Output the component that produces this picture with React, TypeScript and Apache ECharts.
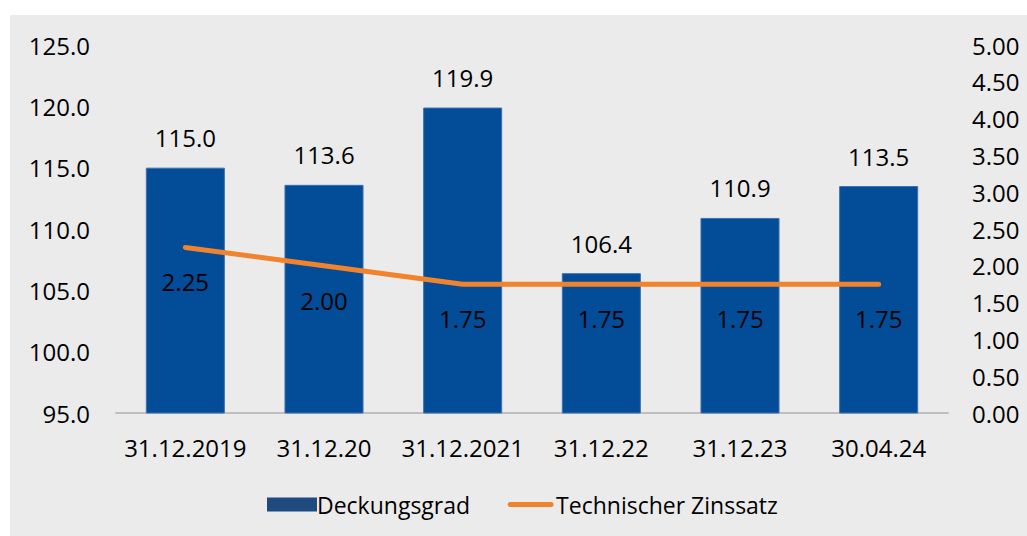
import React, { useEffect, useRef } from "react";
import * as echarts from "echarts";

const categories = ["31.12.2019", "31.12.20", "31.12.2021", "31.12.22", "31.12.23", "30.04.24"];
const deckungsgrad = [115.0, 113.6, 119.9, 106.4, 110.9, 113.5];
const zinssatz = [2.25, 2.0, 1.75, 1.75, 1.75, 1.75];

const FONT = "'Open Sans', sans-serif";
const LINE_ICON =
  "path://M0,0 L0.001,0 L0,0.001 Z M50,14 L49.999,14 L50,13.999 Z M4,4.5 H45 A2.5,2.5 0 0 1 45,9.5 H4 A2.5,2.5 0 0 1 4,4.5 Z";

export default function App() {
  const ref = useRef<HTMLDivElement>(null);
  useEffect(() => {
    if (!ref.current) return;
    const chart = echarts.init(ref.current, null, { renderer: "svg" });
    chart.setOption({
      animation: false,
      backgroundColor: "#ebebeb",
      textStyle: { fontFamily: FONT },
      grid: { left: 106, right: 79, top: 30, bottom: 123 },
      legend: {
        left: 252,
        top: 473,
        itemWidth: 50,
        itemHeight: 14,
        itemGap: 36,
        textStyle: { fontFamily: FONT, fontSize: 23, color: "#000", padding: [0, 0, 0, -5] },
        data: [
          { name: "Deckungsgrad", icon: "rect", itemStyle: { color: "#1f4a80", borderWidth: 0 } },
          { name: "Technischer Zinssatz", icon: LINE_ICON, itemStyle: { color: "#f0832b", borderWidth: 0 } },
        ],
      },
      xAxis: {
        type: "category",
        data: categories,
        axisLine: { show: true, lineStyle: { color: "#bfbfbf", width: 2 } },
        axisTick: { show: false },
        axisLabel: { color: "#000", fontSize: 24, fontFamily: FONT, margin: 22, interval: 0 },
      },
      yAxis: [
        {
          type: "value",
          min: 95,
          max: 125,
          interval: 5,
          splitLine: { show: false },
          axisLine: { show: false },
          axisTick: { show: false },
          axisLabel: {
            color: "#000",
            fontSize: 24,
            fontFamily: FONT,
            margin: 26,
            formatter: (v: number) => v.toFixed(1),
          },
        },
        {
          type: "value",
          min: 0,
          max: 5,
          interval: 0.5,
          splitLine: { show: false },
          axisLine: { show: false },
          axisTick: { show: false },
          axisLabel: {
            color: "#000",
            fontSize: 24,
            fontFamily: FONT,
            margin: 24,
            formatter: (v: number) => v.toFixed(2),
          },
        },
      ],
      series: [
        {
          name: "Deckungsgrad",
          type: "bar",
          data: deckungsgrad,
          barWidth: "57%",
          itemStyle: { color: "#024c98", borderColor: "#3d6fb3", borderWidth: 1 },
          label: {
            show: true,
            position: "top",
            distance: 18,
            color: "#000",
            fontSize: 24,
            fontFamily: FONT,
            formatter: (p: any) => Number(p.value).toFixed(1),
          },
        },
        {
          name: "Technischer Zinssatz",
          type: "line",
          yAxisIndex: 1,
          data: zinssatz,
          symbol: "circle",
          symbolSize: 1,
          itemStyle: { color: "#f0832b" },
          lineStyle: { color: "#f0832b", width: 5, cap: "round", join: "round" },
          label: {
            show: true,
            position: "bottom",
            distance: 22,
            color: "#000",
            fontSize: 24,
            fontFamily: FONT,
            formatter: (p: any) => Number(p.value).toFixed(2),
          },
          z: 5,
        },
      ],
    });
    return () => chart.dispose();
  }, []);
  return (
    <div style={{ position: "absolute", left: 0, top: 0, width: 1027, height: 536, background: "#fff" }}>
      <div ref={ref} style={{ position: "absolute", left: 10, top: 15, width: 1017, height: 521 }} />
    </div>
  );
}
